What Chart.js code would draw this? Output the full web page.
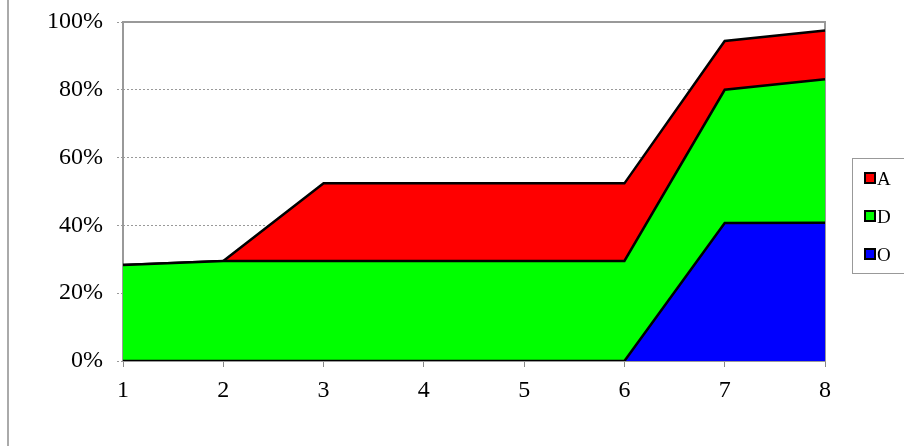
<!DOCTYPE html>
<html>
<head>
<meta charset="utf-8">
<script src="https://cdn.jsdelivr.net/npm/chart.js@4.4.0/dist/chart.umd.min.js"></script>
<style>
  html, body { margin: 0; padding: 0; background: #fff; overflow: hidden; }
  #wrap { position: relative; width: 904px; height: 447px; }
  #frame { position: absolute; left: 7px; top: 0; width: 0; height: 446px; border-left: 2px solid #aaa; }
  #legend { position: absolute; left: 852px; top: 158px; width: 60px; height: 116px;
    border: 1px solid #999; box-sizing: border-box; font-family: "Liberation Serif", "Times New Roman", serif;
    font-size: 19px; color: #000; }
  .item { position: absolute; left: 11px; height: 22px; line-height: 22px; }
  .box { display: inline-block; width: 8px; height: 8px; border: 2px solid #000; vertical-align: 1px; margin-right: 1px; }
</style>
</head>
<body>
<div id="wrap">
  <canvas id="chart" width="904" height="447"></canvas>
  <div id="frame"></div>
  <div id="legend"></div>
</div>
<script>
const categories = ["1", "2", "3", "4", "5", "6", "7", "8"];
const seriesO = [0, 0, 0, 0, 0, 0, 40.7, 40.8];
const seriesD = [28.3, 29.5, 29.5, 29.5, 29.5, 29.5, 39.3, 42.3];
const seriesA = [0, 0, 22.9, 22.9, 22.9, 22.9, 14.4, 14.4];
const yTicks = [0, 20, 40, 60, 80, 100];

const series = [
  { label: "O", data: seriesO, color: "#0000ff", fill: "origin" },
  { label: "D", data: seriesD, color: "#00ff00", fill: "-1" },
  { label: "A", data: seriesA, color: "#ff0000", fill: "-1" },
];

// legend (top series first, like the original)
const legend = document.getElementById("legend");
series.slice().reverse().forEach((s, i) => {
  const d = document.createElement("div");
  d.className = "item";
  d.style.top = (9 + i * 38) + "px";
  d.innerHTML = '<span class="box" style="background:' + s.color + '"></span>' + s.label;
  legend.appendChild(d);
});

const plotFrame = {
  id: "plotFrame",
  beforeDatasetsDraw(chart) {
    const a = chart.chartArea, ctx = chart.ctx;
    ctx.save();
    ctx.strokeStyle = "#999";
    ctx.lineWidth = 2;
    ctx.strokeRect(a.left, a.top, a.right - a.left, a.bottom - a.top);
    ctx.restore();
  }
};

const font = { family: "'Liberation Serif', 'Times New Roman', serif", size: 24 };

new Chart(document.getElementById("chart").getContext("2d"), {
  type: "line",
  data: {
    labels: categories,
    datasets: series.map(s => ({
      label: s.label,
      data: s.data,
      backgroundColor: s.color,
      borderColor: "#000",
      borderWidth: 2.5,
      fill: s.fill,
      pointRadius: 0,
      tension: 0,
    }))
  },
  options: {
    responsive: false,
    animation: false,
    layout: { padding: { top: 22, right: 79, left: 0, bottom: 0 } },
    plugins: { legend: { display: false }, tooltip: { enabled: false } },
    scales: {
      x: {
        offset: false,
        ticks: { color: "#000", font: font, padding: 9, maxRotation: 0 },
        grid: { drawOnChartArea: false, drawTicks: true, tickLength: 6, color: "#888" },
        border: { display: false },
        afterFit: (s) => { s.height = 86; s.paddingLeft = 0; s.paddingRight = 0; }
      },
      y: {
        stacked: true,
        min: 0,
        max: 100,
        afterBuildTicks: (s) => { s.ticks = yTicks.map(v => ({ value: v })); },
        ticks: { color: "#000", font: font, padding: 14, callback: (v) => v + "%" },
        grid: { color: "#999", lineWidth: 1, tickLength: 6, tickBorderDash: [2, 2] },
        border: { display: false, dash: [2, 2] },
        afterFit: (s) => { s.width = 123; s.paddingTop = 0; s.paddingBottom = 0; }
      }
    }
  },
  plugins: [plotFrame]
});
</script>
</body>
</html>
